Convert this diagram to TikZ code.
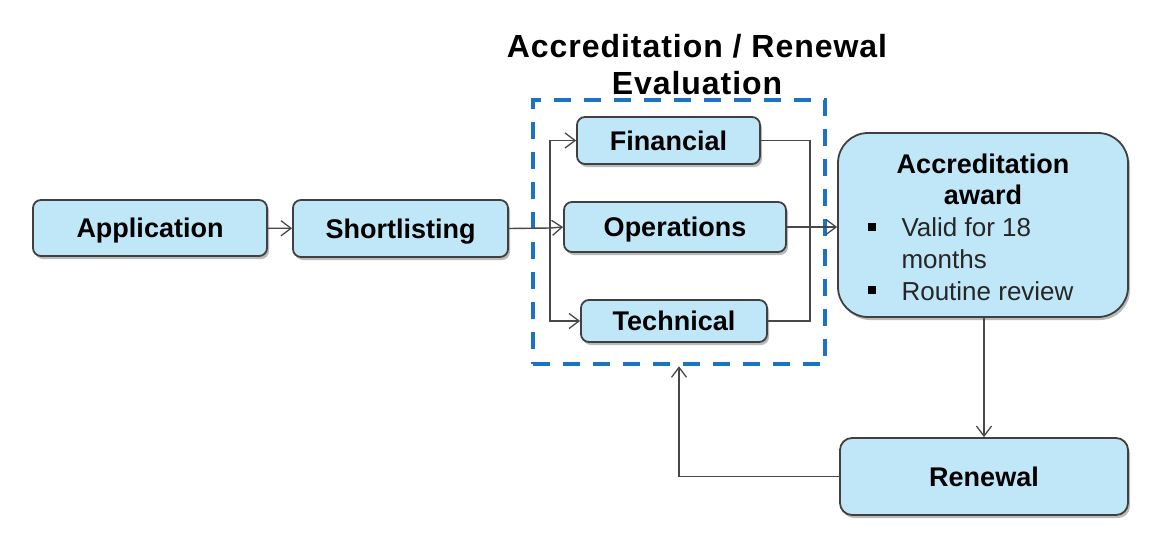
\documentclass[tikz,border=0pt]{standalone}
\usepackage{fontspec}
\setmainfont{Liberation Sans}
\usetikzlibrary{arrows.meta,shadows}
\definecolor{boxfill}{RGB}{192,231,248}
\definecolor{boxline}{RGB}{64,64,64}
\definecolor{dashblue}{RGB}{28,115,196}
\definecolor{linegray}{RGB}{72,72,72}
\begin{document}
\begin{tikzpicture}[x=1pt,y=-1pt,
  proc/.style={draw=boxline, line width=1.8pt, fill=boxfill, rounded corners=8pt,
     drop shadow={shadow xshift=2pt, shadow yshift=-3pt, fill=black!45, opacity=0.6},
     font=\fontsize{27}{30}\selectfont\bfseries, inner sep=0pt, text height=19.5pt, text depth=0pt},
  conn/.style={draw=linegray, line width=1.4pt},
  arr/.style={conn, -{Straight Barb[length=10pt,width=15pt,line width=1.3pt]}},
  bullet/.style={fill=black, minimum size=8pt, inner sep=0pt}
]
\useasboundingbox (0,0) rectangle (1169,536);
% title
\node (title) at (697,65) [align=center, font=\fontsize{32}{37}\selectfont\bfseries\addfontfeature{LetterSpace=3}] {Accreditation / Renewal\\Evaluation};
% dashed box
\node (eval) [draw=dashblue, line width=4.5pt, dash pattern=on 17pt off 13pt, minimum width=292pt, minimum height=264pt, inner sep=0pt] at (679,232) {};
% boxes
\node (app) [proc, minimum width=234pt, minimum height=56pt] at (150,228) {Application};
\node (short) [proc, minimum width=215pt, minimum height=57pt] at (400.5,228.5) {Shortlisting};
\node (fin) [proc, minimum width=183pt, minimum height=47pt] at (668.5,140.5) {Financial};
\node (ops) [proc, minimum width=222pt, minimum height=50pt] at (675,227) {Operations};
\node (tech) [proc, minimum width=186pt, minimum height=42pt] at (674,321) {Technical};
\node (acc) [proc, rounded corners=30pt, minimum width=290pt, minimum height=184pt] at (983,225) {};
\node (ren) [proc, rounded corners=12pt, minimum width=288pt, minimum height=77pt] at (984,476.5) {Renewal};
% award text
\node (acct) at (983,179) [align=center, font=\fontsize{27}{31}\selectfont\bfseries] {Accreditation\\award};
\node (b1) [bullet] at (872,227) {};
\node (b2) [bullet] at (872,290) {};
\node (t1) at (898,243) [anchor=west, align=left, font=\fontsize{26}{32}\selectfont, text=black!85] {Valid for 18\\months};
\node (t2) at (898,291) [anchor=west, font=\fontsize{26}{32}\selectfont, text=black!85] {Routine review};
% coordinates
\coordinate (split) at (550,228);
\coordinate (merge) at (810,227);
% connectors
\draw[arr] (app) -- (short);
\draw[conn] (short.east) -- (split);
\draw[arr] (split) -- (ops.west);
\draw[arr] (split) |- (fin.west);
\draw[arr] (split) |- (tech.west);
\draw[conn] (fin.east) -| (merge);
\draw[conn] (tech.east) -| (merge);
\draw[arr] (ops.east) -- (ops.east -| acc.west);
\draw[arr] (acc.south -| ren.north) -- (ren.north);
\draw[arr] (ren.west) -| (eval.south);
\end{tikzpicture}
\end{document}
